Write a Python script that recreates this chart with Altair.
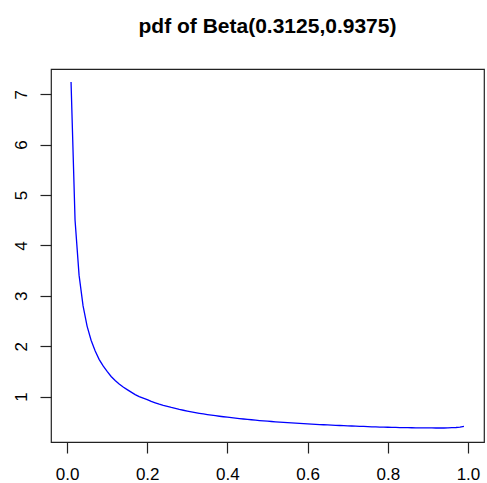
import altair as alt
import pandas as pd

xs = [round(0.01 * i, 2) for i in range(1, 100)]
ys = [7.24, 4.50, 3.41, 2.80, 2.40, 2.12, 1.91, 1.74, 1.61, 1.50,
      1.40, 1.32, 1.25, 1.19, 1.14, 1.09, 1.04, 1.00, 0.97, 0.94,
      0.905, 0.878, 0.852, 0.828, 0.806, 0.785, 0.766, 0.747, 0.730, 0.714,
      0.699, 0.684, 0.670, 0.657, 0.645, 0.633, 0.622, 0.611, 0.601, 0.592,
      0.582, 0.573, 0.564, 0.556, 0.548, 0.541, 0.533, 0.526, 0.520, 0.513,
      0.507, 0.501, 0.495, 0.489, 0.484, 0.479, 0.474, 0.469, 0.464, 0.459,
      0.455, 0.451, 0.446, 0.442, 0.438, 0.434, 0.431, 0.427, 0.424, 0.420,
      0.417, 0.414, 0.411, 0.408, 0.405, 0.402, 0.400, 0.397, 0.395, 0.393,
      0.391, 0.389, 0.387, 0.385, 0.384, 0.383, 0.382, 0.381, 0.380, 0.379,
      0.379, 0.378, 0.378, 0.378, 0.379, 0.384, 0.388, 0.395, 0.410]
x_ticks = [0.0, 0.2, 0.4, 0.6, 0.8, 1.0]
y_ticks = [1, 2, 3, 4, 5, 6, 7]

df = pd.DataFrame({"x": xs, "y": ys})

FONT = "Liberation Sans"
INK = "#222222"

chart = alt.Chart(df).mark_line(color="#0000FF", strokeWidth=1.3).encode(
    x=alt.X("x:Q", scale=alt.Scale(domain=[-0.04, 1.04], nice=False, zero=False),
            axis=alt.Axis(values=x_ticks, format=".1f", title=None, grid=False,
                          domain=False, tickSize=11, tickColor=INK, tickWidth=1.2,
                          labelFont=FONT, labelFontSize=17, labelColor="#000000",
                          labelPadding=13, labelBaseline="top", labelFlush=False)),
    y=alt.Y("y:Q", scale=alt.Scale(domain=[0.1, 7.5], nice=False, zero=False),
            axis=alt.Axis(values=y_ticks, format="d", title=None, grid=False,
                          domain=False, tickSize=11, tickColor=INK, tickWidth=1.2,
                          labelFont=FONT, labelFontSize=17, labelColor="#000000",
                          labelAngle=270, labelAlign="center", labelBaseline="alphabetic",
                          labelPadding=14, labelFlush=False)),
).properties(
    width=433, height=373,
    title=alt.TitleParams("pdf of Beta(0.3125,0.9375)", font=FONT, fontSize=21,
                          fontWeight="bold", color="#000000", anchor="middle",
                          baseline="alphabetic", offset=15),
    autosize=alt.AutoSizeParams(type="none"),
    padding={"left": 51, "top": 69, "right": 3, "bottom": 41},
    background="white",
).configure_view(stroke=INK, strokeWidth=1.2)

chart.save("out.html", embed_options={"renderer": "svg", "actions": False})
